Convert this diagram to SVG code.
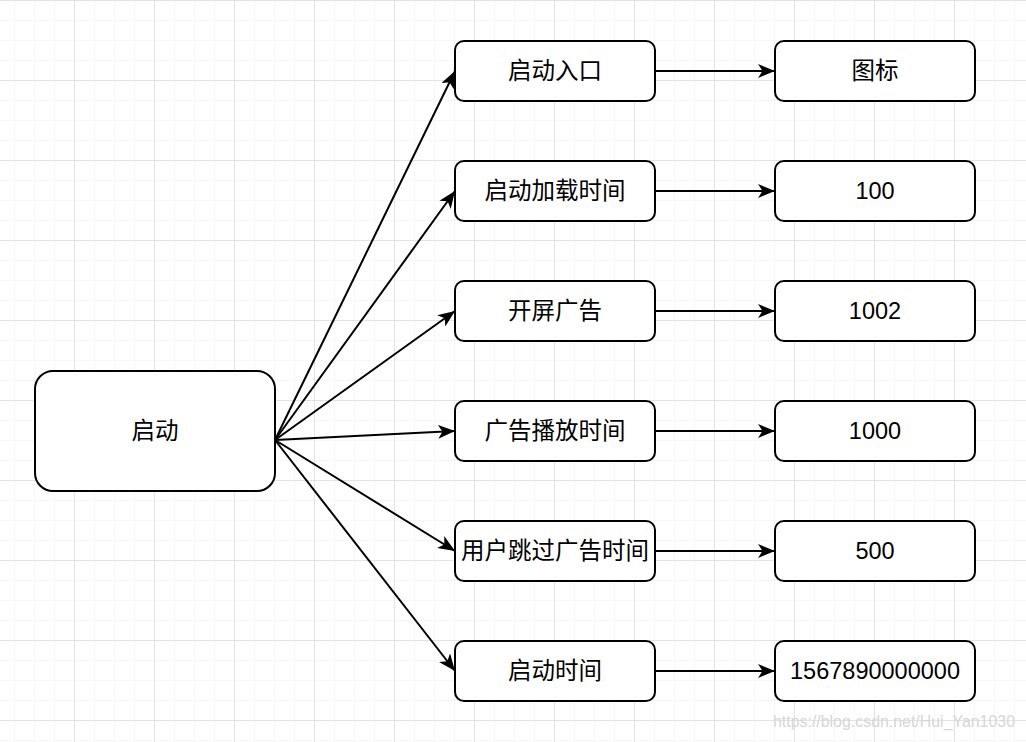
<svg xmlns="http://www.w3.org/2000/svg" width="1026" height="742" viewBox="0 0 1026 742">
<defs>
<pattern id="minor" x="14" y="0" width="20" height="20" patternUnits="userSpaceOnUse">
<path d="M0,0 V20 M0,0 H20" fill="none" stroke="#efefef" stroke-width="1"/>
</pattern>
<pattern id="major" x="74" y="0" width="80" height="80" patternUnits="userSpaceOnUse">
<path d="M0,0 V80 M0,0 H80" fill="none" stroke="#d0d0d0" stroke-width="1"/>
</pattern>
<marker id="arr" markerUnits="userSpaceOnUse" markerWidth="18" markerHeight="14" refX="17" refY="7" orient="auto">
<path d="M0,0 L17,7 L0,14 L4.5,7 Z" fill="#000"/>
</marker>
</defs>
<style>
.box{fill:#fff;stroke:#000;stroke-width:2}
.lbl{font-family:"Liberation Sans","Noto Sans CJK SC",sans-serif;font-size:23.5px;fill:#000;text-anchor:middle;dominant-baseline:central}
.edge{fill:none;stroke:#000;stroke-width:2;marker-end:url(#arr)}
.wm{font-family:"Liberation Sans",sans-serif;font-size:16px;fill:#d6d6d6}
</style>
<rect width="1026" height="742" fill="#fff"/>
<rect width="1026" height="742" fill="url(#minor)"/>
<rect width="1026" height="742" fill="url(#major)"/>
<g id="connectors">
<path class="edge" d="M275,440 L455,71"/>
<path class="edge" d="M275,440 L455,191"/>
<path class="edge" d="M275,440 L455,311"/>
<path class="edge" d="M275,440 L455,431"/>
<path class="edge" d="M275,440 L455,551"/>
<path class="edge" d="M275,440 L455,671"/>
<path class="edge" d="M655,71 H775"/>
<path class="edge" d="M655,191 H775"/>
<path class="edge" d="M655,311 H775"/>
<path class="edge" d="M655,431 H775"/>
<path class="edge" d="M655,551 H775"/>
<path class="edge" d="M655,671 H775"/>
</g>
<g id="n-start"><rect class="box" x="35" y="371" width="240" height="120" rx="18"/><text class="lbl" x="155" y="431">启动</text></g>
<g id="n-entry"><rect class="box" x="455" y="41" width="200" height="60" rx="9"/><text class="lbl" x="555" y="71">启动入口</text></g>
<g id="n-load"><rect class="box" x="455" y="161" width="200" height="60" rx="9"/><text class="lbl" x="555" y="191">启动加载时间</text></g>
<g id="n-ad"><rect class="box" x="455" y="281" width="200" height="60" rx="9"/><text class="lbl" x="555" y="311">开屏广告</text></g>
<g id="n-adplay"><rect class="box" x="455" y="401" width="200" height="60" rx="9"/><text class="lbl" x="555" y="431">广告播放时间</text></g>
<g id="n-skip"><rect class="box" x="455" y="521" width="200" height="60" rx="9"/><text class="lbl" x="555" y="551">用户跳过广告时间</text></g>
<g id="n-time"><rect class="box" x="455" y="641" width="200" height="60" rx="9"/><text class="lbl" x="555" y="671">启动时间</text></g>
<g id="v-icon"><rect class="box" x="775" y="41" width="200" height="60" rx="9"/><text class="lbl" x="875" y="71">图标</text></g>
<g id="v-100"><rect class="box" x="775" y="161" width="200" height="60" rx="9"/><text class="lbl" x="875" y="191">100</text></g>
<g id="v-1002"><rect class="box" x="775" y="281" width="200" height="60" rx="9"/><text class="lbl" x="875" y="311">1002</text></g>
<g id="v-1000"><rect class="box" x="775" y="401" width="200" height="60" rx="9"/><text class="lbl" x="875" y="431">1000</text></g>
<g id="v-500"><rect class="box" x="775" y="521" width="200" height="60" rx="9"/><text class="lbl" x="875" y="551">500</text></g>
<g id="v-ts"><rect class="box" x="775" y="641" width="200" height="60" rx="9"/><text class="lbl" x="875" y="671">1567890000000</text></g>
<text class="wm" x="773" y="727" textLength="242" lengthAdjust="spacingAndGlyphs">https://blog.csdn.net/Hui_Yan1030</text>
</svg>
